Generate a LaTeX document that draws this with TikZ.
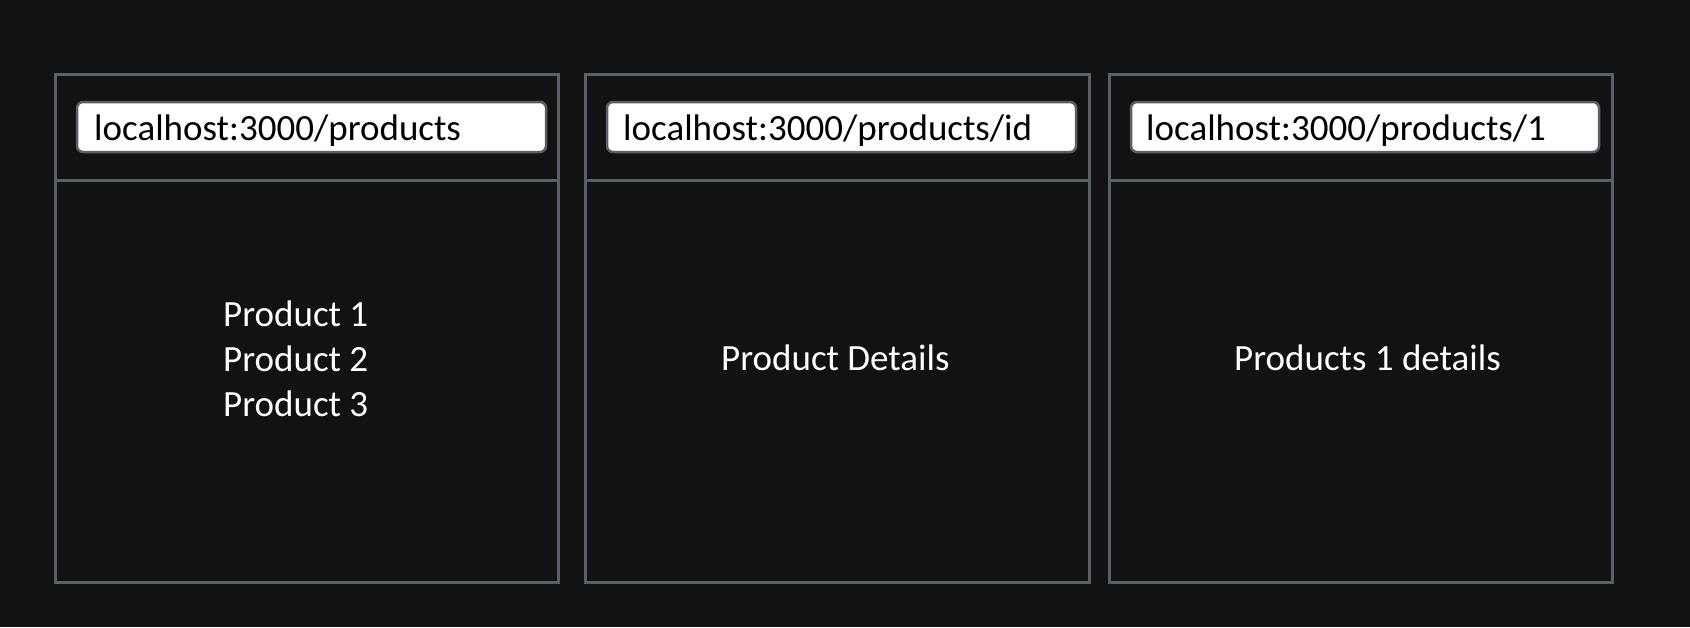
\documentclass[tikz,border=0pt]{standalone}
\usepackage{fontspec}
\setmainfont{Carlito}
\definecolor{bg}{HTML}{111212}
\definecolor{frame}{HTML}{5B6068}
\tikzset{
  x=1pt, y=-1pt,
  panel/.style={draw=frame, line width=3pt},
  urlbar/.style={draw=frame, fill=white, line width=2.5pt, rounded corners=6pt},
  urltext/.style={anchor=base west, text=black, font=\fontsize{37}{45}\selectfont, inner sep=0pt},
  bodytext/.style={anchor=base west, text=white, font=\fontsize{37}{45}\selectfont, inner sep=0pt},
}
\begin{document}
\begin{tikzpicture}
\fill[bg] (0,0) rectangle (1690,627);
\useasboundingbox (0,0) rectangle (1690,627);
% panels
\foreach \n/\l/\r in {a/55/558, b/585/1089, c/1109/1612}{
  \draw[panel] (\l,74) rectangle (\r,582);
  \draw[panel] (\l,180) -- (\r,180);
}
\draw[urlbar] (77,102) rectangle (546,152);
\node[urltext] (u1) at (94,140) {localhost:3000/products};
\draw[urlbar] (607,102) rectangle (1076,152);
\node[urltext] (u2) at (623,140) {localhost:3000/products/id};
\draw[urlbar] (1131,102) rectangle (1599,152);
\node[urltext] (u3) at (1146,140) {localhost:3000/products/1};
\node[bodytext] (t1a) at (223,326) {Product 1};
\node[bodytext] (t1b) at (223,371) {Product 2};
\node[bodytext] (t1c) at (223,416) {Product 3};
\node[bodytext] (t2) at (721,370) {Product Details};
\node[bodytext] (t3) at (1234,370) {Products 1 details};
\end{tikzpicture}
\end{document}
